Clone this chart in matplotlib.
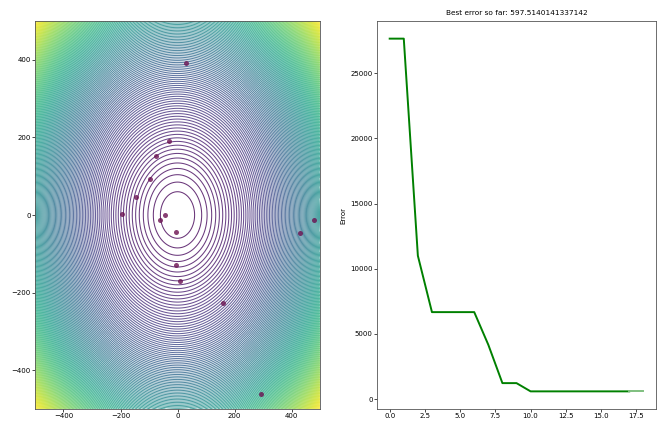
import numpy as np
import matplotlib
matplotlib.use("Agg")
import matplotlib.pyplot as plt

# Sampled points (left panel)
pts_x = [29, -29, -74, -95, -147, -193, -44, -62, -5, -5, 8, 159, 430, 480, 293]
pts_y = [392, 190, 151, 92, 47, 3, -1, -14, -44, -129, -169, -228, -47, -12, -461]

# Error history (right panel)
iterations = list(range(19))
errors = [27650, 27650, 11000, 6675, 6675, 6675, 6675, 4170, 1230, 1230,
          597.5140141337142, 597.5140141337142, 597.5140141337142, 597.5140141337142,
          597.5140141337142, 597.5140141337142, 597.5140141337142, 597.5140141337142,
          597.5140141337142]
best_error = 597.5140141337142

fig = plt.figure(figsize=(6.65, 4.21), dpi=100)
ax1 = fig.add_axes([35/665, 1 - 409/421, (320-35)/665, (409-21)/421])
ax2 = fig.add_axes([377/665, 1 - 409/421, (656-377)/665, (409-21)/421])

# Contour of objective
g = np.linspace(-500, 500, 800)
X, Y = np.meshgrid(g, g)
Z = X**2 + Y**2
levels = np.linspace(0, Z.max(), 140)
ax1.contour(X, Y, Z, levels=levels, cmap='viridis', linewidths=0.75, alpha=0.8)
ax1.scatter(pts_x, pts_y, s=13, color='#6a1050', alpha=0.8, zorder=3, linewidths=0)
ax1.set_xlim(-500, 500)
ax1.set_ylim(-500, 500)
ax1.set_xticks([-400, -200, 0, 200, 400])
ax1.set_yticks([-400, -200, 0, 200, 400])

# Error plot
ax2.plot(iterations[:18], errors[:18], color='green', linewidth=1.4)
ax2.plot(iterations[17:], errors[17:], color='#7fbf7f', linewidth=1.4)
ax2.set_title(f"Best error so far: {best_error}", fontsize=5.3, pad=4)
ax2.set_ylabel("Error", fontsize=5, labelpad=3)
ax2.set_xticks([0, 2.5, 5, 7.5, 10, 12.5, 15, 17.5])
ax2.set_yticks([0, 5000, 10000, 15000, 20000, 25000])

for ax in (ax1, ax2):
    ax.tick_params(labelsize=5, length=2, width=0.5, pad=1)
    for s in ax.spines.values():
        s.set_linewidth(0.6)
        s.set_color('#555555')

fig.savefig("out.png", dpi=100)
